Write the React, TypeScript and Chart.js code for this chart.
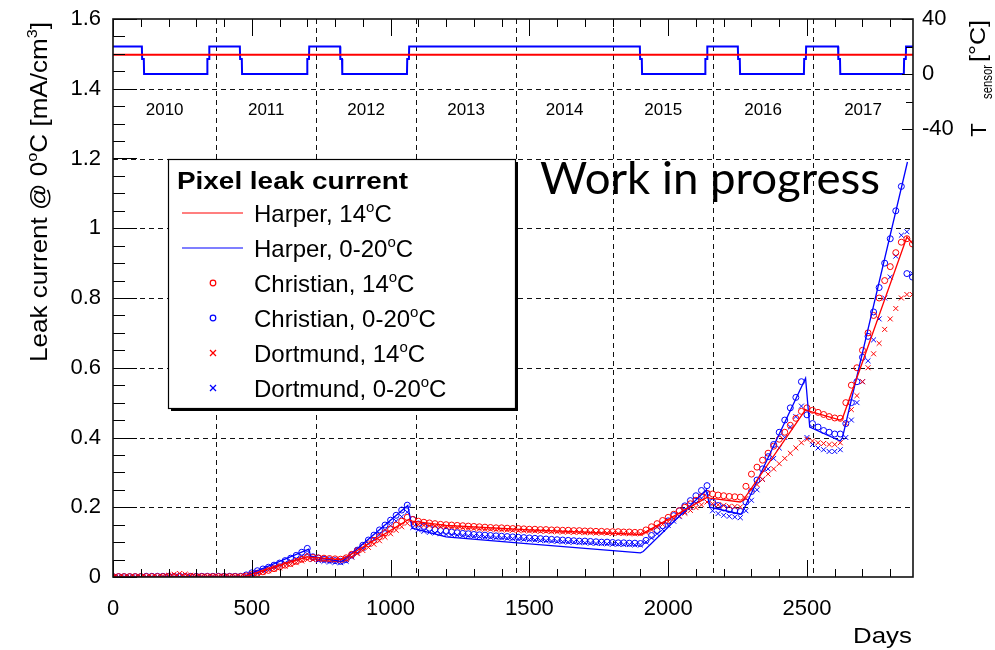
import React, { useEffect, useRef } from 'react';
import { Chart, registerables } from 'chart.js';
Chart.register(...registerables);

const FONT = "'Liberation Sans', Arial, Helvetica, sans-serif";

// ---------- axes / ticks ----------
const X_MAX = 2882;
const X_TICKS = [0, 500, 1000, 1500, 2000, 2500];
const Y_TICKS = [0, 0.2, 0.4, 0.6, 0.8, 1, 1.2, 1.4, 1.6];
const T_TICKS = [-40, -20, 0, 20, 40];
const T_LABELED = [-40, 0, 40];
const T_MIN = -365.8;
const T_MAX = 40;
const YEAR_BOUNDS = [0, 372, 732, 1092, 1452, 1802, 2162, 2522, 2882];
const YEARS = ['2010', '2011', '2012', '2013', '2014', '2015', '2016', '2017'];

// ---------- measurement sampling (days) ----------
const DAYS = [0,20,40,60,80,100,120,140,160,180,200,220,240,260,280,300,320,340,360,380,400,420,440,460,480,500,520,540,560,580,600,620,640,660,680,700,720,740,760,780,800,820,840,860,880,900,920,940,960,980,1000,1020,1040,1060,1080,1100,1120,1140,1160,1180,1200,1220,1240,1260,1280,1300,1320,1340,1360,1380,1400,1420,1440,1460,1480,1500,1520,1540,1560,1580,1600,1620,1640,1660,1680,1700,1720,1740,1760,1780,1800,1820,1840,1860,1880,1900,1920,1940,1960,1980,2000,2020,2040,2060,2080,2100,2120,2140,2160,2180,2200,2220,2240,2260,2280,2300,2320,2340,2360,2380,2400,2420,2440,2460,2480,2500,2520,2540,2560,2580,2600,2620,2640,2660,2680,2700,2720,2740,2760,2780,2800,2820,2840,2860,2880];

// Christian, 0-20°C (blue circles)
const CHRISTIAN_020 = [
  0.001,0.001,0.001,0.001,0.001,0.001,0.002,0.002,0.002,0.002,0.002,0.002,0.002,0.002,0.002,0.002,0.002,0.002,0.002,0.002,0.002,0.002,0.002,0.002,
  0.006,0.012,0.018,0.023,0.028,0.034,0.040,0.047,0.054,0.062,0.071,0.082,
  0.058,0.054,0.051,0.049,0.047,0.045,
  0.050,0.063,0.077,0.091,0.106,0.120,0.135,0.149,0.163,0.177,0.192,0.206,
  0.165,0.152,0.145,0.140,0.136,0.133,0.131,0.129,0.127,0.125,0.124,0.122,0.121,0.120,0.119,0.118,0.117,0.116,0.115,0.114,0.113,0.112,0.111,0.110,0.109,0.108,0.107,0.106,0.105,0.104,0.103,0.103,0.102,0.101,0.100,0.100,0.099,0.098,0.098,0.097,0.097,0.096,
  0.105,0.119,0.133,0.147,0.161,0.176,0.190,0.204,0.219,0.233,0.248,0.262,
  0.215,0.205,0.198,0.193,0.190,0.188,
  0.215,0.245,0.278,0.310,0.345,0.380,0.415,0.450,0.485,0.515,0.560,
  0.465,0.440,0.430,0.420,0.415,0.410,0.410,
  0.440,0.500,0.560,0.630,0.690,0.760,0.830,0.900,0.970,1.050,1.120,
  0.870,0.860
];

// Dortmund, 0-20°C (blue crosses)
const DORTMUND_020 = [
  0.001,0.001,0.001,0.001,0.001,0.001,0.001,0.001,0.001,0.001,0.001,0.001,0.001,0.001,0.001,0.001,0.001,0.001,0.001,0.001,0.001,0.001,0.001,0.001,
  0.004,0.009,0.014,0.019,0.024,0.029,0.034,0.040,0.046,0.052,0.059,0.066,
  0.050,0.047,0.045,0.043,0.042,0.041,
  0.045,0.057,0.069,0.082,0.095,0.108,0.121,0.134,0.147,0.160,0.173,0.186,
  0.142,0.135,0.131,0.128,0.126,0.124,0.122,0.121,0.120,0.119,0.118,0.117,0.116,0.115,0.114,0.113,0.112,0.111,0.110,0.109,0.108,0.107,0.106,0.105,0.104,0.103,0.102,0.101,0.100,0.100,0.099,0.098,0.097,0.096,0.096,0.095,0.094,0.094,0.093,0.093,0.092,0.092,
  0.100,0.112,0.124,0.136,0.148,0.160,0.173,0.186,0.199,0.212,0.226,0.240,
  0.190,0.182,0.177,0.174,0.172,0.170,
  0.190,0.220,0.250,0.280,0.310,0.340,0.370,0.400,0.430,0.460,0.490,
  0.400,0.380,0.370,0.365,0.360,0.360,0.365,
  0.400,0.450,0.500,0.560,0.620,0.680,0.740,0.800,0.860,0.920,0.980,
  0.990,0.870
];

// Christian, 14°C (red circles)
const CHRISTIAN_14 = [
  0.001,0.001,0.001,0.001,0.001,0.001,0.001,0.001,0.001,0.001,0.001,0.001,0.001,0.001,0.001,0.001,0.001,0.001,0.001,0.001,0.001,0.001,0.001,0.001,
  0.003,0.007,0.011,0.015,0.019,0.024,0.029,0.034,0.039,0.045,0.051,0.058,
  0.056,0.055,0.054,0.053,0.052,0.051,
  0.055,0.065,0.075,0.085,0.095,0.105,0.116,0.127,0.138,0.149,0.160,0.171,
  0.165,0.160,0.157,0.155,0.153,0.151,0.150,0.149,0.148,0.147,0.146,0.145,0.144,0.143,0.142,0.141,0.141,0.140,0.139,0.139,0.138,0.137,0.137,0.136,0.136,0.135,0.135,0.134,0.134,0.133,0.133,0.132,0.132,0.131,0.131,0.130,0.130,0.130,0.129,0.129,0.128,0.128,
  0.135,0.144,0.153,0.162,0.171,0.180,0.190,0.200,0.210,0.220,0.230,0.240,
  0.238,0.235,0.233,0.231,0.230,0.229,
  0.260,0.295,0.315,0.335,0.355,0.375,0.395,0.415,0.435,0.455,0.475,
  0.485,0.478,0.472,0.466,0.460,0.456,0.455,
  0.500,0.550,0.600,0.650,0.700,0.750,0.800,0.850,0.890,0.930,0.960,
  0.970,0.955
];

// Dortmund, 14°C (red crosses)
const DORTMUND_14 = [
  0,0,0,0,0,0,0,0,0,0.002,0.005,0.008,0.010,0.008,0.005,0.002,0.002,0.002,0.002,0.002,0.002,0.002,0.002,0.002,
  0.003,0.006,0.010,0.014,0.018,0.022,0.026,0.031,0.036,0.041,0.046,0.050,
  0.050,0.050,0.050,0.049,0.049,0.048,
  0.050,0.058,0.067,0.076,0.085,0.094,0.104,0.114,0.124,0.134,0.144,0.154,
  0.152,0.150,0.148,0.147,0.146,0.145,0.144,0.143,0.142,0.141,0.140,0.139,0.138,0.137,0.137,0.136,0.135,0.135,0.134,0.133,0.133,0.132,0.132,0.131,0.131,0.130,0.130,0.129,0.129,0.128,0.128,0.127,0.127,0.126,0.126,0.126,0.125,0.125,0.125,0.124,0.124,0.124,
  0.128,0.135,0.143,0.151,0.159,0.167,0.175,0.183,0.191,0.199,0.207,0.215,
  0.210,0.207,0.205,0.203,0.202,0.201,
  0.225,0.250,0.265,0.280,0.295,0.310,0.325,0.340,0.355,0.370,0.385,
  0.395,0.390,0.385,0.383,0.380,0.380,0.385,
  0.440,0.480,0.520,0.560,0.600,0.640,0.670,0.710,0.740,0.770,0.800,
  0.810,0.810
];

// Harper model curves
const HARPER_14_DAYS = [0, 470, 700, 710, 820, 830, 1065, 1078, 1200, 1500, 1900, 1910, 2140, 2150, 2260, 2270, 2495, 2505, 2620, 2628, 2860, 2882];
const HARPER_14_VAL = [0, 0.001, 0.058, 0.057, 0.050, 0.052, 0.165, 0.160, 0.148, 0.135, 0.122, 0.125, 0.228, 0.226, 0.215, 0.220, 0.480, 0.476, 0.450, 0.455, 0.975, 0.955];
const HARPER_020_DAYS = [0, 470, 705, 712, 820, 830, 1062, 1078, 1200, 1500, 1900, 1910, 2138, 2150, 2262, 2270, 2495, 2510, 2620, 2628, 2862];
const HARPER_020_VAL = [0, 0.001, 0.080, 0.060, 0.045, 0.047, 0.205, 0.140, 0.115, 0.095, 0.069, 0.073, 0.250, 0.200, 0.180, 0.190, 0.570, 0.430, 0.390, 0.400, 1.190];

// Sensor temperature profiles (right axis, °C)
const TEMP_14_DAYS = [0, 2882];
const TEMP_14_VAL = [14, 14];
const TEMP_020_DAYS = [0,104,105,111,112,339,340,346,347,457,458,464,465,699,700,706,707,818,819,825,826,1059,1060,1066,1067,1898,1899,1905,1906,2133,2134,2140,2141,2251,2252,2258,2259,2489,2490,2496,2497,2612,2613,2619,2620,2849,2850,2856,2857,2882];
const TEMP_020_VAL = [20,20,11,11,0,0,11,11,20,20,11,11,0,0,11,11,20,20,11,11,0,0,11,11,20,20,11,11,0,0,11,11,20,20,11,11,0,0,11,11,20,20,11,11,0,0,11,11,20,20];

const RED = 'rgb(255,0,0)';
const BLUE = 'rgb(0,0,255)';

type Seg = { t: string; sup?: boolean; sub?: boolean };

function drawRich(
  ctx: CanvasRenderingContext2D,
  segs: Seg[],
  x: number,
  y: number,
  size: number,
  o: { bold?: boolean; align?: 'left' | 'right' | 'center'; rotate?: boolean; fit?: number; family?: string; color?: string } = {}
) {
  const fam = o.family || FONT;
  const weight = o.bold ? 'bold ' : '';
  const fontFor = (s: Seg) => `${weight}${s.sup || s.sub ? Math.round(size * 0.62) : size}px ${fam}`;
  const widths = segs.map((s) => {
    ctx.font = fontFor(s);
    return ctx.measureText(s.t).width;
  });
  const total = widths.reduce((a, b) => a + b, 0);
  ctx.save();
  ctx.translate(x, y);
  if (o.rotate) ctx.rotate(-Math.PI / 2);
  const sx = o.fit ? o.fit / total : 1;
  ctx.scale(sx, 1);
  const align = o.align || 'left';
  let cx = align === 'left' ? 0 : align === 'right' ? -total : -total / 2;
  ctx.textAlign = 'left';
  ctx.textBaseline = 'alphabetic';
  ctx.fillStyle = o.color || '#000';
  segs.forEach((s, i) => {
    ctx.font = fontFor(s);
    const dy = s.sup ? -size * 0.42 : s.sub ? size * 0.22 : 0;
    ctx.fillText(s.t, cx, dy);
    cx += widths[i];
  });
  ctx.restore();
}

function line(ctx: CanvasRenderingContext2D, x1: number, y1: number, x2: number, y2: number) {
  ctx.beginPath();
  ctx.moveTo(x1, y1);
  ctx.lineTo(x2, y2);
  ctx.stroke();
}

const rootStyle = {
  id: 'rootStyle',
  beforeDatasetsDraw(chart: any) {
    const { ctx, chartArea } = chart;
    const { left, right, top, bottom } = chartArea;
    const xs = chart.scales.x;
    const ys = chart.scales.y;
    ctx.save();
    ctx.strokeStyle = '#111';
    ctx.lineWidth = 1;
    ctx.setLineDash([5, 4]);
    Y_TICKS.forEach((v) => {
      if (v <= 0 || v >= 1.6) return;
      const py = Math.round(ys.getPixelForValue(v)) + 0.5;
      line(ctx, left, py, right, py);
    });
    YEAR_BOUNDS.slice(1, -1).forEach((d) => {
      const px = Math.round(xs.getPixelForValue(d)) + 0.5;
      line(ctx, px, top, px, bottom);
    });
    ctx.restore();
  },
  afterDatasetsDraw(chart: any) {
    const { ctx, chartArea } = chart;
    const { left, right, top, bottom } = chartArea;
    const xs = chart.scales.x;
    const ys = chart.scales.y;
    const yt = chart.scales.yT;
    ctx.save();
    // inward ticks
    ctx.strokeStyle = '#000';
    ctx.lineWidth = 1;
    for (let d = 0; d <= X_MAX; d += 100) {
      const px = Math.round(xs.getPixelForValue(d)) + 0.5;
      const L = d % 500 === 0 ? 17 : 8;
      line(ctx, px, bottom, px, bottom - L);
      line(ctx, px, top, px, top + L);
    }
    for (let k = 0; k <= 32; k++) {
      const py = Math.round(ys.getPixelForValue(k * 0.05)) + 0.5;
      const L = k % 4 === 0 ? 24 : 12;
      line(ctx, left, py, left + L, py);
    }
    T_TICKS.forEach((t) => {
      const py = Math.round(yt.getPixelForValue(t)) + 0.5;
      const L = t % 40 === 0 ? 11 : 7;
      line(ctx, right, py, right - L, py);
    });
    // frame
    ctx.lineWidth = 1.6;
    ctx.strokeStyle = '#111';
    ctx.strokeRect(left, top, right - left, bottom - top);

    // year labels
    ctx.fillStyle = '#000';
    ctx.font = `17px ${FONT}`;
    ctx.textAlign = 'center';
    ctx.textBaseline = 'middle';
    YEARS.forEach((yr, i) => {
      const px = (xs.getPixelForValue(YEAR_BOUNDS[i]) + xs.getPixelForValue(YEAR_BOUNDS[i + 1])) / 2;
      ctx.fillText(yr, px, 110);
    });

    // legend
    const bx = 168, by = 159, bw = 347, bh = 249;
    ctx.fillStyle = '#000';
    ctx.fillRect(bx + 3, by + 3, bw, bh);
    ctx.fillStyle = '#fff';
    ctx.fillRect(bx, by, bw, bh);
    ctx.strokeStyle = '#000';
    ctx.lineWidth = 1.2;
    ctx.strokeRect(bx + 0.5, by + 0.5, bw, bh);
    drawRich(ctx, [{ t: 'Pixel leak current' }], 177, 189, 23, { bold: true, fit: 231 });
    const entries: { segs: Seg[]; kind: string; color: string }[] = [
      { segs: [{ t: 'Harper, 14' }, { t: 'o', sup: true }, { t: 'C' }], kind: 'line', color: RED },
      { segs: [{ t: 'Harper, 0-20' }, { t: 'o', sup: true }, { t: 'C' }], kind: 'line', color: BLUE },
      { segs: [{ t: 'Christian, 14' }, { t: 'o', sup: true }, { t: 'C' }], kind: 'circle', color: RED },
      { segs: [{ t: 'Christian, 0-20' }, { t: 'o', sup: true }, { t: 'C' }], kind: 'circle', color: BLUE },
      { segs: [{ t: 'Dortmund, 14' }, { t: 'o', sup: true }, { t: 'C' }], kind: 'cross', color: RED },
      { segs: [{ t: 'Dortmund, 0-20' }, { t: 'o', sup: true }, { t: 'C' }], kind: 'cross', color: BLUE },
    ];
    entries.forEach((e, i) => {
      const cy = 213 + i * 35;
      ctx.strokeStyle = e.color;
      ctx.lineWidth = 1.2;
      if (e.kind === 'line') {
        line(ctx, 182, cy, 243, cy);
      } else if (e.kind === 'circle') {
        ctx.beginPath();
        ctx.arc(213, cy, 2.8, 0, Math.PI * 2);
        ctx.stroke();
      } else {
        line(ctx, 210, cy - 3, 216, cy + 3);
        line(ctx, 210, cy + 3, 216, cy - 3);
      }
      drawRich(ctx, e.segs, 254, cy + 9, 24, { fit: undefined });
    });

    // Work in progress
    drawRich(ctx, [{ t: 'Work in progress' }], 540, 194, 45, { family: "Lato, 'Open Sans', sans-serif", fit: 340 });

    // axis titles
    drawRich(ctx, [{ t: 'Leak current @ 0' }, { t: 'o', sup: true }, { t: 'C [mA/cm' }, { t: '3', sup: true }, { t: ']' }], 47, 362, 24, { rotate: true, fit: 340 });
    drawRich(ctx, [{ t: 'Days' }], 912, 643, 22, { align: 'right', fit: 59 });
    drawRich(ctx, [{ t: 'T' }], 986, 130, 22, { rotate: true, align: 'center' });
    drawRich(ctx, [{ t: 'sensor' }], 992, 99, 14, { rotate: true, align: 'left', fit: 34 });
    drawRich(ctx, [{ t: '[°C]' }], 985, 41, 22, { rotate: true, align: 'center', fit: 42 });
    ctx.restore();
  },
};

function pts(xs: number[], ys: number[]) {
  return xs.map((x, i) => ({ x, y: ys[i] }));
}

function noPad(s: any) {
  s.paddingTop = 0;
  s.paddingBottom = 0;
  s.paddingLeft = 0;
  s.paddingRight = 0;
}

export default function App() {
  const ref = useRef<HTMLCanvasElement | null>(null);
  useEffect(() => {
    if (!ref.current) return;
    const tickFont = { family: FONT, size: 22 };
    const chart = new Chart(ref.current, {
      type: 'scatter',
      data: {
        datasets: [
          { label: 'T 14', data: pts(TEMP_14_DAYS, TEMP_14_VAL), yAxisID: 'yT', showLine: true, borderColor: RED, borderWidth: 2, pointRadius: 0, order: 1 },
          { label: 'T 0-20', data: pts(TEMP_020_DAYS, TEMP_020_VAL), yAxisID: 'yT', showLine: true, borderColor: BLUE, borderWidth: 2, pointRadius: 0, order: 1 },
          { label: 'Harper, 14°C', data: pts(HARPER_14_DAYS, HARPER_14_VAL), yAxisID: 'y', showLine: true, borderColor: RED, borderWidth: 1.3, pointRadius: 0, order: 2 },
          { label: 'Harper, 0-20°C', data: pts(HARPER_020_DAYS, HARPER_020_VAL), yAxisID: 'y', showLine: true, borderColor: BLUE, borderWidth: 1.3, pointRadius: 0, order: 2 },
          { label: 'Dortmund, 14°C', data: pts(DAYS, DORTMUND_14), yAxisID: 'y', pointStyle: 'crossRot', pointRadius: 3.5, borderColor: RED, borderWidth: 1, backgroundColor: 'transparent', order: 3 },
          { label: 'Christian, 14°C', data: pts(DAYS, CHRISTIAN_14), yAxisID: 'y', pointStyle: 'circle', pointRadius: 3, borderColor: RED, borderWidth: 1, backgroundColor: 'transparent', order: 4 },
          { label: 'Dortmund, 0-20°C', data: pts(DAYS, DORTMUND_020), yAxisID: 'y', pointStyle: 'crossRot', pointRadius: 3.5, borderColor: BLUE, borderWidth: 1, backgroundColor: 'transparent', order: 5 },
          { label: 'Christian, 0-20°C', data: pts(DAYS, CHRISTIAN_020), yAxisID: 'y', pointStyle: 'circle', pointRadius: 3, borderColor: BLUE, borderWidth: 1, backgroundColor: 'transparent', order: 6 },
        ],
      },
      options: {
        responsive: false,
        animation: false,
        devicePixelRatio: 1,
        layout: { padding: { top: 19, left: 0, right: 0, bottom: 0 } },
        plugins: { legend: { display: false }, tooltip: { enabled: false } },
        scales: {
          x: {
            type: 'linear',
            position: 'bottom',
            min: 0,
            max: X_MAX,
            grid: { display: false, drawTicks: false },
            border: { display: false },
            afterBuildTicks: (s: any) => { s.ticks = X_TICKS.map((v) => ({ value: v })); },
            afterFit: (s: any) => { s.height = 73; noPad(s); },
            ticks: { font: tickFont, color: '#000', padding: 19, maxRotation: 0, autoSkip: false, callback: (v: any) => String(v) },
          },
          y: {
            type: 'linear',
            position: 'left',
            min: 0,
            max: 1.6,
            grid: { display: false, drawTicks: false },
            border: { display: false },
            afterBuildTicks: (s: any) => { s.ticks = Y_TICKS.map((v) => ({ value: v })); },
            afterFit: (s: any) => { s.width = 113; noPad(s); },
            ticks: { font: tickFont, color: '#000', padding: 12, autoSkip: false, callback: (v: any) => String(v) },
          },
          yT: {
            type: 'linear',
            position: 'right',
            min: T_MIN,
            max: T_MAX,
            grid: { display: false, drawTicks: false },
            border: { display: false },
            afterBuildTicks: (s: any) => { s.ticks = T_TICKS.map((v) => ({ value: v })); },
            afterFit: (s: any) => { s.width = 82; noPad(s); },
            ticks: { font: tickFont, color: '#000', padding: 9, autoSkip: false, callback: (v: any) => (T_LABELED.includes(v) ? String(v) : '') },
          },
        },
      },
      plugins: [rootStyle],
    } as any);
    return () => chart.destroy();
  }, []);
  return (
    <div style={{ position: 'absolute', left: 0, top: 0, width: 995, height: 650, background: '#fff' }}>
      <canvas ref={ref} width={995} height={650} />
    </div>
  );
}
